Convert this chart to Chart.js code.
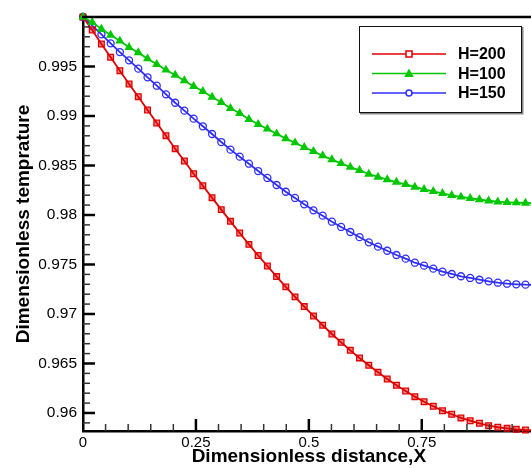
<!DOCTYPE html>
<html>
<head>
<meta charset="utf-8">
<script src="https://cdn.jsdelivr.net/npm/chart.js"></script>
<style>
  html, body { margin: 0; padding: 0; overflow: hidden; background: #fff; }
  #wrap { width: 540px; height: 468px; }
</style>
</head>
<body>
<div id="wrap"><canvas id="tempChart" width="540" height="468"></canvas></div>
<script>
// dimensionless distance of the 50 grid nodes
const xPos = [0, 0.0204, 0.0408, 0.0612, 0.0816, 0.1020, 0.1224, 0.1429, 0.1633, 0.1837,
  0.2041, 0.2245, 0.2449, 0.2653, 0.2857, 0.3061, 0.3265, 0.3469, 0.3673, 0.3878,
  0.4082, 0.4286, 0.4490, 0.4694, 0.4898, 0.5102, 0.5306, 0.5510, 0.5714, 0.5918,
  0.6122, 0.6327, 0.6531, 0.6735, 0.6939, 0.7143, 0.7347, 0.7551, 0.7755, 0.7959,
  0.8163, 0.8367, 0.8571, 0.8776, 0.8980, 0.9184, 0.9388, 0.9592, 0.9796, 1.0];

const tempH200 = [1.0, 0.99869, 0.99727, 0.99593, 0.99458, 0.99323, 0.99195, 0.99061, 0.98929, 0.98801,
  0.98670, 0.98545, 0.98417, 0.98296, 0.98175, 0.98054, 0.97936, 0.97818, 0.97703, 0.97591,
  0.97485, 0.97378, 0.97274, 0.97173, 0.97075, 0.96980, 0.96886, 0.96798, 0.96714, 0.96633,
  0.96556, 0.96482, 0.96411, 0.96343, 0.96280, 0.96222, 0.96165, 0.96114, 0.96068, 0.96023,
  0.95987, 0.95950, 0.95922, 0.95896, 0.95872, 0.95856, 0.95845, 0.95835, 0.95828, 0.95826];

const tempH100 = [1.0, 0.99946, 0.99879, 0.99818, 0.99758, 0.99694, 0.99640, 0.99579, 0.99522, 0.99465,
  0.99414, 0.99357, 0.99300, 0.99250, 0.99192, 0.99138, 0.99078, 0.99027, 0.98967, 0.98916,
  0.98869, 0.98821, 0.98771, 0.98730, 0.98684, 0.98643, 0.98599, 0.98559, 0.98522, 0.98485,
  0.98451, 0.98414, 0.98384, 0.98358, 0.98332, 0.98310, 0.98283, 0.98260, 0.98239, 0.98219,
  0.98199, 0.98182, 0.98169, 0.98155, 0.98144, 0.98134, 0.98128, 0.98124, 0.98121, 0.98120];

const tempH150 = [1.0, 0.99912, 0.99825, 0.99734, 0.99646, 0.99562, 0.99478, 0.99391, 0.99306, 0.99219,
  0.99134, 0.99054, 0.98973, 0.98896, 0.98818, 0.98737, 0.98660, 0.98589, 0.98518, 0.98444,
  0.98374, 0.98303, 0.98235, 0.98172, 0.98108, 0.98047, 0.97993, 0.97932, 0.97879, 0.97828,
  0.97776, 0.97724, 0.97680, 0.97639, 0.97596, 0.97559, 0.97518, 0.97488, 0.97458, 0.97427,
  0.97404, 0.97381, 0.97364, 0.97346, 0.97330, 0.97316, 0.97306, 0.97300, 0.97296, 0.97295];

const seriesNames = ['H=200', 'H=100', 'H=150'];
const xTicks = [0, 0.25, 0.5, 0.75];
const yTicks = [0.96, 0.965, 0.97, 0.975, 0.98, 0.985, 0.99, 0.995];

const FONT = '"Liberation Sans", Arial, Helvetica, sans-serif';

const styles = [
  { color: '#e00000', fill: 'rgba(230, 0, 0, 0.45)', point: 'rect', radius: 4, legendR: 3 },
  { color: '#00c800', fill: '#00c800', point: 'triangle', radius: 4, legendR: 3.5 },
  { color: '#2e2eff', fill: 'rgba(0, 0, 0, 0)', point: 'circle', radius: 3.5, legendR: 3 }
];

function toPoints(ys) {
  return xPos.map((x, i) => ({ x: x, y: ys[i] }));
}

// inward tick marks, top frame line and the boxed legend
const framePlugin = {
  id: 'frame',
  afterDraw(chart) {
    const { ctx, chartArea: a, scales: { x, y } } = chart;
    ctx.save();
    ctx.strokeStyle = '#000';
    ctx.lineWidth = 2.5;
    ctx.beginPath();
    ctx.moveTo(a.left - 1, a.top);
    ctx.lineTo(a.right, a.top);
    ctx.stroke();

    for (let k = 959; k < 1000; k++) {
      const py = y.getPixelForValue(k / 1000);
      const major = k % 5 === 0;
      ctx.lineWidth = major ? 2.5 : 1.5;
      ctx.strokeStyle = major ? '#000' : '#333';
      ctx.beginPath();
      ctx.moveTo(a.left, py);
      ctx.lineTo(a.left + (major ? 12 : 7), py);
      ctx.stroke();
    }
    for (let k = 1; k < 20; k++) {
      const px = x.getPixelForValue(k / 20);
      const major = k % 5 === 0;
      ctx.lineWidth = major ? 2.5 : 1.5;
      ctx.strokeStyle = major ? '#000' : '#333';
      ctx.beginPath();
      ctx.moveTo(px, a.bottom);
      ctx.lineTo(px, a.bottom - (major ? 12 : 7));
      ctx.stroke();
    }

    // legend box
    const bx = 359, by = 26, bw = 163, bh = 87;
    ctx.fillStyle = '#fff';
    ctx.fillRect(bx, by, bw, bh);
    ctx.strokeStyle = '#888';
    ctx.lineWidth = 2;
    ctx.beginPath();
    ctx.moveTo(bx + 1, by + bh + 0.5);
    ctx.lineTo(bx + bw + 0.5, by + bh + 0.5);
    ctx.lineTo(bx + bw + 0.5, by + 1);
    ctx.stroke();
    ctx.strokeStyle = '#111';
    ctx.lineWidth = 1;
    ctx.strokeRect(bx + 0.5, by + 0.5, bw - 1, bh - 1);

    const rows = [54, 73.5, 93];
    ctx.font = 'bold 16px ' + FONT;
    ctx.textBaseline = 'middle';
    ctx.textAlign = 'left';
    seriesNames.forEach((name, i) => {
      const s = styles[i];
      const ly = rows[i];
      ctx.strokeStyle = s.color;
      ctx.lineWidth = 1.5;
      ctx.beginPath();
      ctx.moveTo(372, ly);
      ctx.lineTo(446, ly);
      ctx.stroke();
      const mx = 409, r = s.legendR;
      ctx.beginPath();
      if (s.point === 'rect') {
        ctx.rect(mx - r, ly - r, 2 * r, 2 * r);
        ctx.fillStyle = '#fff';
        ctx.fill();
      } else if (s.point === 'triangle') {
        ctx.moveTo(mx, ly - r);
        ctx.lineTo(mx + r, ly + r * 0.8);
        ctx.lineTo(mx - r, ly + r * 0.8);
        ctx.closePath();
        ctx.fillStyle = s.fill;
        ctx.fill();
      } else {
        ctx.arc(mx, ly, r, 0, Math.PI * 2);
        ctx.fillStyle = '#fff';
        ctx.fill();
      }
      ctx.lineWidth = 1.5;
      ctx.stroke();
      ctx.fillStyle = '#000';
      ctx.fillText(name, 458, ly + 1);
    });
    ctx.restore();
  }
};

const seriesData = [tempH200, tempH100, tempH150];

new Chart(document.getElementById('tempChart'), {
  type: 'scatter',
  data: {
    datasets: seriesData.map((ys, i) => ({
      label: seriesNames[i],
      data: toPoints(ys),
      showLine: true,
      borderColor: styles[i].color,
      borderWidth: 1.8,
      pointStyle: styles[i].point,
      pointRadius: styles[i].radius,
      pointBorderWidth: 1.3,
      pointBorderColor: styles[i].color,
      pointBackgroundColor: styles[i].fill,
      clip: false,
      order: i === 1 ? 0 : i + 1
    }))
  },
  options: {
    responsive: false,
    animation: false,
    events: [],
    layout: { padding: { top: 17, right: 3, left: 0, bottom: 0 } },
    plugins: { legend: { display: false }, tooltip: { enabled: false } },
    scales: {
      x: {
        type: 'linear',
        min: 0,
        max: 1,
        grid: { display: false, drawTicks: false },
        border: { display: true, color: '#000', width: 2.5 },
        afterBuildTicks: s => { s.ticks = xTicks.map(v => ({ value: v })); },
        afterFit: s => { s.height = 37; },
        ticks: {
          autoSkip: false,
          maxRotation: 0,
          padding: 3,
          color: '#000',
          font: { family: FONT, size: 15 },
          callback: v => String(v)
        },
        title: {
          display: true,
          text: 'Dimensionless distance,X',
          color: '#000',
          font: { family: FONT, size: 19, weight: 'bold' },
          padding: { top: 0, bottom: 0 }
        }
      },
      y: {
        min: 0.95818,
        max: 1.0,
        grid: { display: false, drawTicks: false },
        border: { display: true, color: '#000', width: 2.5 },
        afterBuildTicks: s => { s.ticks = yTicks.map(v => ({ value: v })); },
        afterFit: s => { s.width = 83; },
        ticks: {
          autoSkip: false,
          padding: 6,
          color: '#000',
          font: { family: FONT, size: 15.5 },
          callback: v => String(Number(v.toFixed(3)))
        },
        title: {
          display: true,
          text: 'Dimensionless temprature',
          color: '#000',
          font: { family: FONT, size: 19, weight: 'bold' },
          padding: { top: 12, bottom: 0 }
        }
      }
    }
  },
  plugins: [framePlugin]
});
</script>
</body>
</html>
